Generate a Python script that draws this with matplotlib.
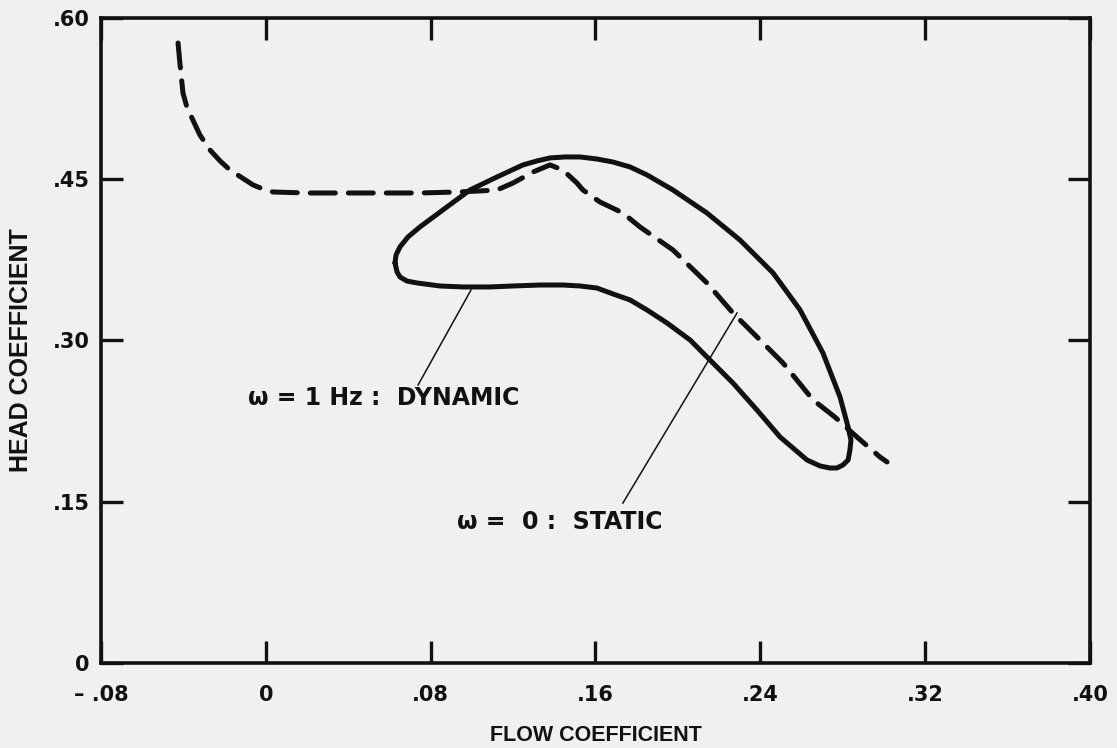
import matplotlib
matplotlib.use("Agg")
import matplotlib.pyplot as plt

plt.rcParams['font.family'] = ['Liberation Sans', 'DejaVu Sans']

# Static characteristic (omega = 0), dashed
static_flow = [-0.0426, -0.0417, -0.0402, -0.0383, -0.0354, -0.0320, -0.0271, -0.0222,
               -0.0174, -0.0062, -0.0014, 0.0035, 0.0200, 0.0408, 0.0748, 0.0928, 0.1039,
               0.1122, 0.1200, 0.1297, 0.1379, 0.1442, 0.1510, 0.1539, 0.1622, 0.1733,
               0.1816, 0.1976, 0.2141, 0.2267, 0.2384, 0.2510, 0.2656, 0.2762, 0.2869,
               0.2981, 0.3015]
static_head = [0.5767, 0.5581, 0.5302, 0.5172, 0.5051, 0.4912, 0.4772, 0.4670,
               0.4586, 0.4447, 0.4409, 0.4381, 0.4372, 0.4372, 0.4372, 0.4381, 0.4391,
               0.4400, 0.4465, 0.4567, 0.4633, 0.4586, 0.4465, 0.4400, 0.4288, 0.4186,
               0.4056, 0.3842, 0.3535, 0.3256, 0.3033, 0.2791, 0.2447, 0.2288, 0.2102,
               0.1916, 0.1870]

# Dynamic loop (omega = 1 Hz), solid closed curve
dynamic_flow = [0.0627, 0.0632, 0.0651, 0.0690, 0.0748, 0.0879, 0.0991, 0.1122, 0.1248,
                0.1316, 0.1379, 0.1452, 0.1525, 0.1607, 0.1685, 0.1768, 0.1850, 0.1976,
                0.2141, 0.2301, 0.2462, 0.2593, 0.2704, 0.2787, 0.2826, 0.2840, 0.2835,
                0.2826, 0.2801, 0.2772, 0.2738, 0.2690, 0.2627, 0.2496, 0.2384, 0.2267,
                0.2170, 0.2059, 0.1947, 0.1850, 0.1768, 0.1685, 0.1607, 0.1525, 0.1442,
                0.1331, 0.1200, 0.1088, 0.0957, 0.0845, 0.0734, 0.0685, 0.0651, 0.0637,
                0.0627]
dynamic_head = [0.3721, 0.3795, 0.3870, 0.3963, 0.4056, 0.4242, 0.4400, 0.4521, 0.4633,
                0.4670, 0.4698, 0.4707, 0.4707, 0.4688, 0.4660, 0.4614, 0.4540, 0.4400,
                0.4186, 0.3935, 0.3628, 0.3284, 0.2884, 0.2474, 0.2195, 0.2074, 0.1981,
                0.1888, 0.1842, 0.1814, 0.1814, 0.1833, 0.1888, 0.2102, 0.2353, 0.2605,
                0.2791, 0.3005, 0.3163, 0.3284, 0.3377, 0.3433, 0.3488, 0.3507, 0.3516,
                0.3516, 0.3507, 0.3498, 0.3498, 0.3507, 0.3535, 0.3553, 0.3591, 0.3637,
                0.3721]

x_ticks = [-0.08, 0.0, 0.08, 0.16, 0.24, 0.32, 0.40]
x_tick_labels = ['– .08', '0', '.08', '.16', '.24', '.32', '.40']
y_ticks = [0.0, 0.15, 0.30, 0.45, 0.60]
y_tick_labels = ['0', '.15', '.30', '.45', '.60']

# annotation anchors (data coords)
dyn_label_xy = (-0.0087, 0.2465)
dyn_leader = [(0.0739, 0.2586), (0.0996, 0.3470)]
sta_label_xy = (0.0928, 0.1312)
sta_leader = [(0.1733, 0.1488), (0.2287, 0.3256)]

ink = '#111111'
bg = '#f0f0ee'

fig = plt.figure(figsize=(11.17, 7.48), dpi=100, facecolor=bg)
ax = fig.add_axes([0.0904, 0.1136, 0.8854, 0.8624])
ax.set_facecolor(bg)

ax.plot(static_flow, static_head, color=ink, lw=3.6, linestyle=(0, (5.0, 2.6)),
        dash_capstyle='round', dash_joinstyle='round')
ax.plot(dynamic_flow, dynamic_head, color=ink, lw=3.6, solid_joinstyle='round',
        solid_capstyle='round')

ax.plot([dyn_leader[0][0], dyn_leader[1][0]], [dyn_leader[0][1], dyn_leader[1][1]],
        color=ink, lw=1.1)
ax.plot([sta_leader[0][0], sta_leader[1][0]], [sta_leader[0][1], sta_leader[1][1]],
        color=ink, lw=1.1)

ax.text(dyn_label_xy[0], dyn_label_xy[1], 'ω = 1 Hz :  DYNAMIC', fontsize=17,
        ha='left', va='center', color=ink, fontweight='bold', family='DejaVu Sans')
ax.text(sta_label_xy[0], sta_label_xy[1], 'ω =  0 :  STATIC', fontsize=17,
        ha='left', va='center', color=ink, fontweight='bold', family='DejaVu Sans')

ax.set_xlim(-0.08, 0.40)
ax.set_ylim(0, 0.60)

ax.set_xticks(x_ticks)
ax.set_xticklabels(x_tick_labels)
ax.set_yticks(y_ticks)
ax.set_yticklabels(y_tick_labels)

ax.tick_params(axis='both', direction='in', length=16, width=2.4, colors=ink,
               labelsize=15, top=True, right=True)
ax.tick_params(axis='x', pad=16)
ax.tick_params(axis='y', pad=8)
for lab in ax.get_xticklabels() + ax.get_yticklabels():
    lab.set_fontweight('bold')
    lab.set_family('DejaVu Sans')

for sp in ax.spines.values():
    sp.set_linewidth(2.6)
    sp.set_color(ink)

ax.set_xlabel('FLOW COEFFICIENT', fontsize=15.5, fontweight='bold', color=ink, labelpad=14)
ax.set_ylabel('HEAD COEFFICIENT', fontsize=18, fontweight='bold', color=ink, labelpad=14)
ax.yaxis.set_label_coords(-0.069, 0.485)

fig.savefig('out.png', dpi=100, facecolor=bg)
